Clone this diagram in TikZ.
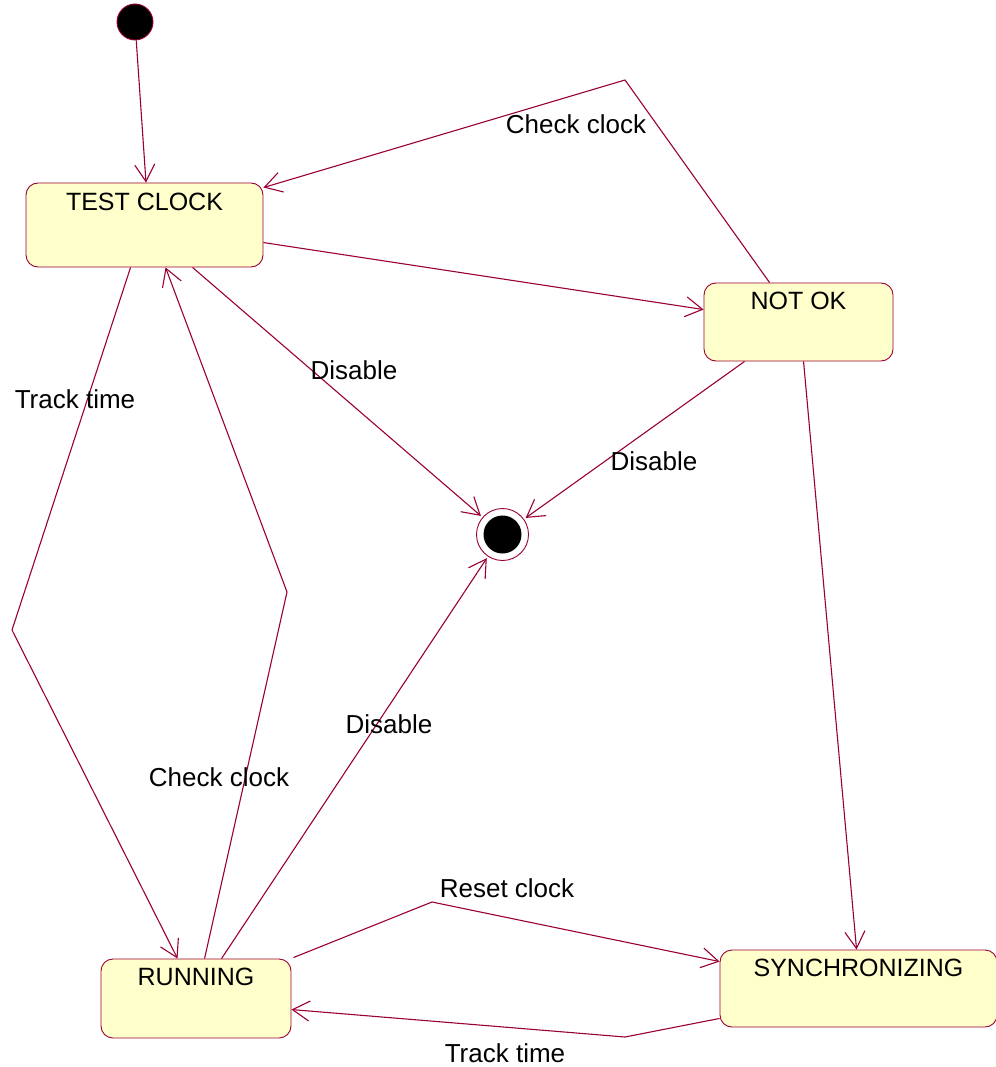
\documentclass[tikz,border=0pt]{standalone}
\usepackage{fontspec}
\setmainfont{Liberation Sans}
\usetikzlibrary{arrows.meta}
\definecolor{umlline}{RGB}{153,0,51}
\definecolor{umlfill}{RGB}{255,255,204}
\begin{document}
\begin{tikzpicture}[x=1pt,y=-1pt,
  statebox/.style={draw=umlline, fill=umlfill, line width=0.9pt, rounded corners=12pt,
    inner sep=0pt, rectangle},
  statetext/.style={anchor=north, yshift=-9pt, inner sep=0pt, text height=18pt, text depth=5pt,
    font=\fontsize{25}{30}\selectfont},
  trans/.style={draw=umlline, line width=1.1pt, -{Straight Barb[length=17pt,width=20pt,line width=1.1pt]}},
  lbl/.style={font=\fontsize{26}{31}\selectfont, inner sep=0pt}]
\useasboundingbox (0,0) rectangle (995,1067);

% states
\node[statebox, minimum width=237pt, minimum height=84pt,
  label={[statetext, yshift=-1pt]north:TEST CLOCK}] (tc) at (144.5,225) {};
\node[statebox, minimum width=189pt, minimum height=78pt,
  label={[statetext]north:NOT OK}] (nok) at (798.5,322) {};
\node[statebox, minimum width=190pt, minimum height=79pt,
  label={[statetext]north:RUNNING}] (run) at (196,998.5) {};
\node[statebox, minimum width=277pt, minimum height=77pt,
  label={[statetext]north:SYNCHRONIZING}] (sync) at (858.5,988.5) {};

% pseudo states
\node[circle, draw=umlline, fill=black, line width=0.9pt, minimum size=36pt, inner sep=0pt] (init) at (135,22) {};
\node[circle, draw=umlline, fill=white, line width=0.9pt, minimum size=52pt, inner sep=0pt] (fin) at (502.5,534.5) {};
\node[circle, fill=black, minimum size=38pt, inner sep=0pt] (fincore) at (fin) {};

% bend points
\coordinate (b1) at (625,80);
\coordinate (b2) at (12,630);
\coordinate (b3) at (287,592);
\coordinate (b4) at (432,902);
\coordinate (b5) at (625,1037);

% transitions
\draw[trans] (init) -- ([xshift=1.5pt]tc.north);
\draw[trans] ([xshift=66pt]nok.north west) -- (b1) -- ([yshift=-5pt]tc.north east);
\draw[trans] ([yshift=-60pt]tc.north east) -- ([yshift=-27pt]nok.north west);
\draw[trans, shorten >=2pt] ([xshift=167pt]tc.south west) -- (fin);
\draw[trans, shorten >=2pt] ([xshift=41pt]nok.south west) -- (fin);
\draw[trans] ([xshift=105pt]tc.south west) -- (b2) -- ([xshift=77pt]run.north west);
\draw[trans] ([xshift=104pt]run.north west) -- (b3) -- ([xshift=140pt]tc.south west);
\draw[trans, shorten >=2pt] ([xshift=121pt]run.north west) -- (fin);
\draw[trans] ([xshift=100pt]nok.south west) -- ([xshift=137pt]sync.north west);
\draw[trans] ([xshift=2pt,yshift=1pt]run.north east) -- (b4) -- ([yshift=-12pt]sync.north west);
\draw[trans] ([yshift=9pt]sync.south west) -- (b5) -- ([yshift=-51pt]run.north east);

% transition labels
\node[lbl] (l1) at (576,124) {Check clock};
\node[lbl] (l2) at (354,370) {Disable};
\node[lbl] (l3) at (654,461) {Disable};
\node[lbl] (l4) at (75,399) {Track time};
\node[lbl] (l5) at (219,777) {Check clock};
\node[lbl] (l6) at (389,724) {Disable};
\node[lbl] (l7) at (507,888) {Reset clock};
\node[lbl] (l8) at (505,1053) {Track time};
\end{tikzpicture}
\end{document}
